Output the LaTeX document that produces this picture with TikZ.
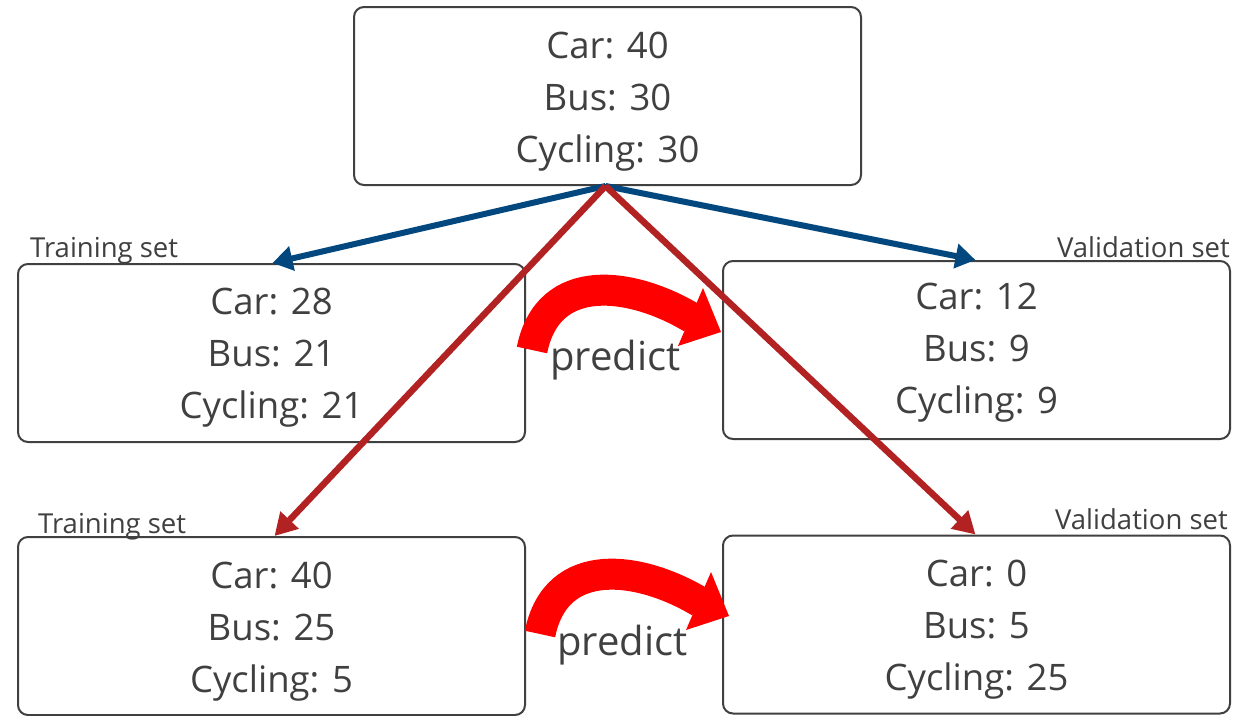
\documentclass[tikz,border=0pt]{standalone}
\usepackage{fontspec}
\setmainfont{Open Sans}
\usetikzlibrary{arrows.meta}
\definecolor{txt}{HTML}{404040}
\definecolor{bluearr}{HTML}{02487E}
\definecolor{redarr}{HTML}{B22222}
\definecolor{predred}{HTML}{FF0000}
\tikzset{
  box/.style={draw=txt, line width=2pt, rounded corners=10pt, minimum width=507pt, minimum height=178pt, inner sep=0pt},
  boxtext/.style={align=center, text=txt, font=\fontsize{36.5}{52}\selectfont, inner sep=0pt},
  setlabel/.style={text=txt, font=\fontsize{27.5}{32}\selectfont, inner sep=0pt},
  bluearrow/.style={draw=bluearr, line width=6pt, -{Triangle[length=20pt,width=24pt]}},
  redarrow/.style={draw=redarr, line width=6.5pt, -{Triangle[length=22pt,width=24pt]}},
  predtext/.style={text=txt, font=\fontsize{40}{46}\selectfont, inner sep=0pt},
  predband/.style={draw=predred, line width=31pt, line cap=butt},
}
\begin{document}
\begin{tikzpicture}[x=1pt,y=-1pt]
\useasboundingbox (0,0) rectangle (1237,715);
% boxes
\node[box] (top) at (607.5,96) {};
\node[box] (train1) at (271.5,353) {};
\node[box] (val1) at (976.5,350) {};
\node[box] (train2) at (271.5,626) {};
\node[box] (val2) at (976.5,624.5) {};
\node[boxtext] (topt) at ([yshift=-6pt]top.center) {Car: 40\\Bus: 30\\Cycling: 30};
\node[boxtext] (train1t) at ([yshift=-5pt]train1.center) {Car: 28\\Bus: 21\\Cycling: 21};
\node[boxtext] (val1t) at ([yshift=-3pt]val1.center) {Car: 12\\Bus: 9\\Cycling: 9};
\node[boxtext] (train2t) at ([yshift=-6pt]train2.center) {Car: 40\\Bus: 25\\Cycling: 5};
\node[boxtext] (val2t) at ([yshift=-5pt]val2.center) {Car: 0\\Bus: 5\\Cycling: 25};
% labels
\node[setlabel, anchor=base west] (lt1) at (30,257) {Training set};
\node[setlabel, anchor=base east] (lv1) at (1230,257) {Validation set};
\node[setlabel, anchor=base west] (lt2) at (38,533) {Training set};
\node[setlabel, anchor=base east] (lv2) at (1228,529) {Validation set};
% connectors
\coordinate (apex) at ([xshift=-2pt]top.south);
\draw[bluearrow] (apex) -- ([xshift=1pt]train1.north);
\draw[bluearrow] (apex) -- ([xshift=-1pt]val1.north);
\draw[redarrow] (apex) -- ([xshift=3pt]train2.north);
\draw[redarrow] (apex) -- ([xshift=-1pt]val2.north);
% predict arrows
\foreach \dx/\dy in {0/0, 8/284}{
  \begin{scope}[shift={(\dx,\dy)}]
    \draw[predband] (532,350) .. controls (548,270) and (632,282) .. (692,318);
    \fill[predred] (703,288) -- (721,332) -- (678,346) -- cycle;
  \end{scope}
}
\node[predtext, anchor=base west] (pt1) at (550,370) {predict};
\node[predtext, anchor=base west] (pt2) at (557,655) {predict};
\end{tikzpicture}
\end{document}
